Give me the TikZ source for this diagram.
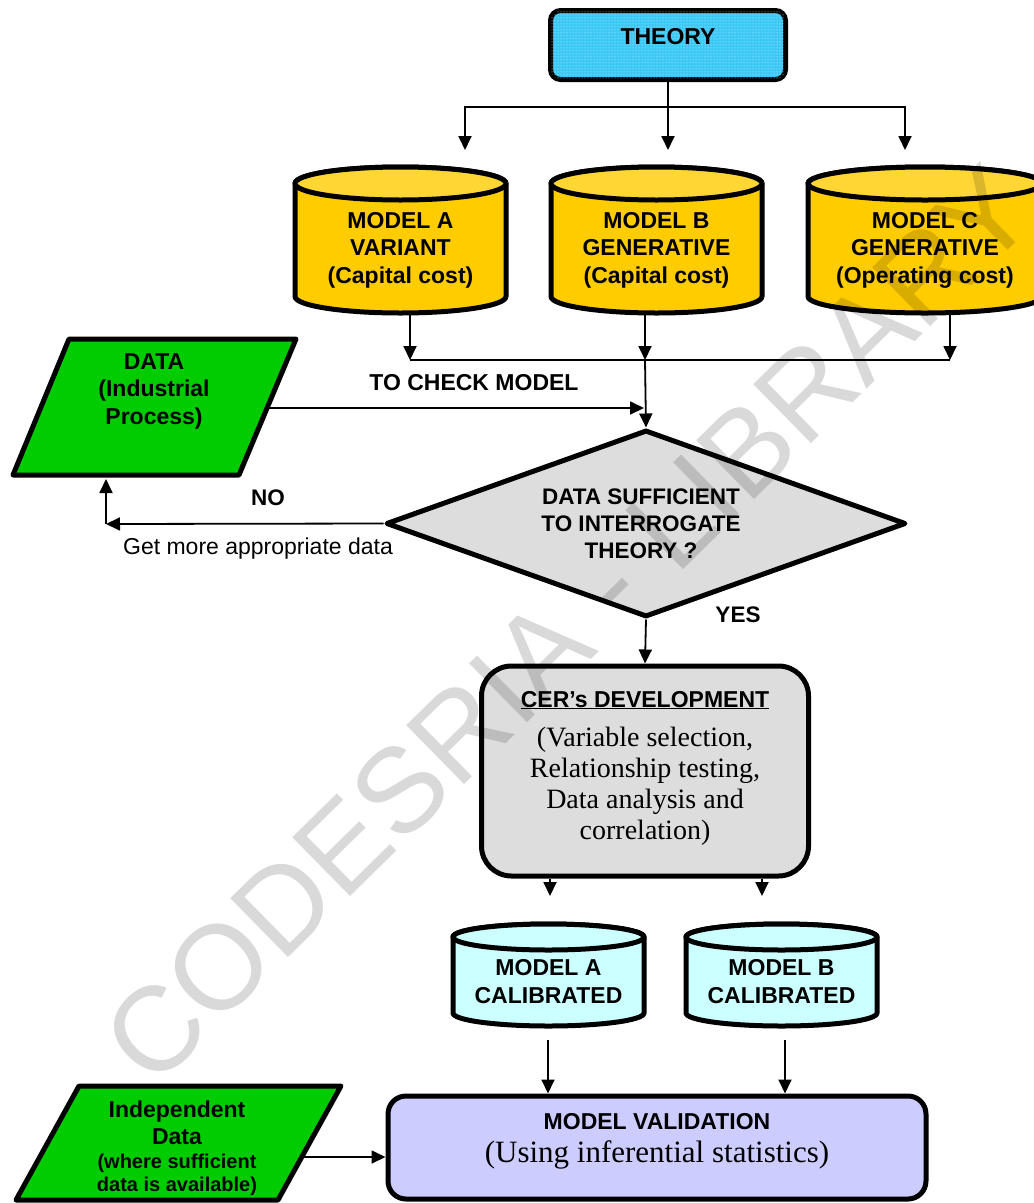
\documentclass[tikz,border=0pt]{standalone}
\usepackage{fontspec}
\setmainfont{Liberation Serif}
\setsansfont{Liberation Sans}
\usetikzlibrary{arrows.meta,shapes.geometric,patterns}

\definecolor{theoryblue}{RGB}{60,200,245}
\definecolor{cylyellow}{RGB}{255,204,0}
\definecolor{cyltop}{RGB}{255,214,51}
\definecolor{datagreen}{RGB}{0,204,0}
\definecolor{boxgray}{RGB}{221,221,221}
\definecolor{calcyan}{RGB}{204,255,255}
\definecolor{validblue}{RGB}{204,204,255}

\tikzset{
  conn/.style={line width=1.8pt, -{Triangle[length=14pt,width=13pt]}},
  wire/.style={line width=1.8pt},
  border/.style={line width=5pt, line join=round},
  lbl/.style={font=\sffamily\bfseries\fontsize{23}{27.5}\selectfont, align=center, inner sep=0pt},
  declbl/.style={font=\sffamily\bfseries\fontsize{22.5}{27}\selectfont, align=center, inner sep=0pt},
}

% vertical drum: #1 left x, #2 right x, #3 top centre y, #4 bottom centre y,
% #5 half height of the end ellipses, #6 body colour, #7 lid colour
\newcommand\drum[7]{%
  \pgfmathsetmacro\drumcx{(#1+#2)/2}%
  \pgfmathsetmacro\drumrx{(#2-#1)/2}%
  \filldraw[border, fill=#6] (#1,#3) -- (#1,#4)
    arc[start angle=180, end angle=360, x radius=\drumrx pt, y radius=#5pt]
    -- (#2,#3)
    arc[start angle=0, end angle=180, x radius=\drumrx pt, y radius=#5pt] -- cycle;
  \filldraw[border, fill=#7] (\drumcx,#3) ellipse[x radius=\drumrx pt, y radius=#5pt];
}

\begin{document}
\begin{tikzpicture}[x=1pt,y=-1pt]
\useasboundingbox (0,0) rectangle (1034,1203);
\clip (0,0) rectangle (1034,1203);

% ---------------- theory ----------------
\node[draw, border, rounded corners=10pt, fill=theoryblue,
      postaction={pattern=dots, pattern color=white!80!theoryblue},
      minimum width=235pt, minimum height=69pt, inner sep=0pt] (theory) at (668,45) {};
\node[lbl] (theorytxt) at (668,37) {THEORY};

% ---------------- the three models ----------------
\drum{295}{506}{183.5}{296.5}{16.5}{cylyellow}{cyltop}
\drum{551}{762}{183.5}{296.5}{16.5}{cylyellow}{cyltop}
\drum{808}{1042}{183.5}{296.5}{16.5}{cylyellow}{cyltop}
\node[lbl] (modA) at (400.5,250) {MODEL A\\VARIANT\\(Capital cost)};
\node[lbl] (modB) at (656.5,250) {MODEL B\\GENERATIVE\\(Capital cost)};
\node[lbl] (modC) at (925,250) {MODEL C\\GENERATIVE\\(Operating cost)};

\coordinate (tA) at (465,150);
\coordinate (tB) at (668,150);
\coordinate (tC) at (905,150);
\draw[conn] (theory.south) -- (tB);
\draw[conn] (theory.south) ++(0,25) -| (tA);
\draw[conn] (theory.south) ++(0,25) -| (tC);

\coordinate (bA) at (410,313);
\coordinate (bB) at (645,313);
\coordinate (bC) at (950,313);
\coordinate (jA) at (410,360);
\coordinate (jB) at (645,360);
\coordinate (jC) at (950,360);
\draw[conn] (bA) -- (jA);
\draw[conn] (bB) -- (jB);
\draw[conn] (bC) -- (jC);
\draw[wire] (jA) -- (jC);

% ---------------- data input ----------------
\filldraw[border, fill=datagreen] (69,339) -- (296,339) -- (239,475) -- (13,475) -- cycle;
\node[lbl] (datatxt) at (154,391) {DATA\\(Industrial\\Process)};

\coordinate (dataR) at (268,408);
\coordinate (mergein) at (644,408);
\draw[conn] (dataR) -- (mergein);
\node[lbl] (tocheck) at (474,383) {TO CHECK MODEL};

% ---------------- decision ----------------
\node[diamond, draw, border, fill=boxgray, minimum width=520pt, minimum height=187pt,
      inner sep=0pt] (dec) at (646,523.5) {};
\node[declbl] (dectxt) at (641,524) {DATA SUFFICIENT\\TO INTERROGATE\\THEORY ?};
\draw[conn] (jB) -- (dec.north);

\coordinate (nocorner) at (106,524);
\coordinate (dataB) at (106,479);
\draw[conn] (dec.west) -- (nocorner);
\draw[conn] (nocorner) -- (dataB);
\node[declbl] (nolbl) at (268,498) {NO};
\node[font=\sffamily\fontsize{23}{27}\selectfont, inner sep=0pt] (getmore) at (258,548.5) {Get more appropriate data};
\node[declbl] (yeslbl) at (738,615) {YES};

% ---------------- CER development ----------------
\node[draw, border, rounded corners=30pt, fill=boxgray, minimum width=327pt,
      minimum height=210pt, inner sep=0pt] (cer) at (645,771) {};
\node[lbl, anchor=base] (cerhead) at (645,707) {\underline{CER’s DEVELOPMENT}};
\node[font=\rmfamily\fontsize{28}{31}\selectfont, align=center, inner sep=0pt] (cerbody) at (645,786)
  {(Variable selection,\\Relationship testing,\\Data analysis and\\correlation)};
\draw[conn] (dec.south) -- (cer.north);

\coordinate (cA) at (550,896);
\coordinate (cB) at (762,896);
\draw[conn] (cer.south -| cA) -- (cA);
\draw[conn] (cer.south -| cB) -- (cB);

% ---------------- calibrated models ----------------
\drum{453}{644}{937}{1013}{13}{calcyan}{calcyan}
\drum{686}{877}{937}{1013}{13}{calcyan}{calcyan}
\node[lbl] (calA) at (548.5,981.5) {MODEL A\\CALIBRATED};
\node[lbl] (calB) at (781.5,981.5) {MODEL B\\CALIBRATED};

% ---------------- validation ----------------
\node[draw, border, rounded corners=18pt, fill=validblue, minimum width=538pt,
      minimum height=103pt, inner sep=0pt] (valid) at (657,1147.5) {};
\node[lbl, anchor=base] (validhead) at (657,1129) {MODEL VALIDATION};
\node[font=\rmfamily\fontsize{31}{34}\selectfont, inner sep=0pt, anchor=base] (validbody) at (657,1162)
  {(Using inferential statistics)};

\coordinate (vA) at (548,1040);
\coordinate (vB) at (785,1040);
\draw[conn] (vA) -- (vA |- valid.north);
\draw[conn] (vB) -- (vB |- valid.north);

% ---------------- independent data ----------------
\filldraw[border, fill=datagreen] (79,1086) -- (341,1086) -- (278,1200) -- (16,1200) -- cycle;
\node[lbl] (indtxt) at (177,1123) {Independent\\Data};
\node[font=\sffamily\bfseries\fontsize{20}{23}\selectfont, align=center, inner sep=0pt] (indnote) at (177,1175)
  {(where sufficient\\data is available)};
\coordinate (indR) at (304,1157);
\draw[conn] (indR) -- (indR -| valid.west);

% ---------------- watermark ----------------
\node[rotate=44.5, font=\sffamily\fontsize{120}{120}\selectfont, text=black, text opacity=0.15,
      inner sep=0pt] (wm) at (568,625) {CODESRIA - LIBRARY};
\end{tikzpicture}
\end{document}
